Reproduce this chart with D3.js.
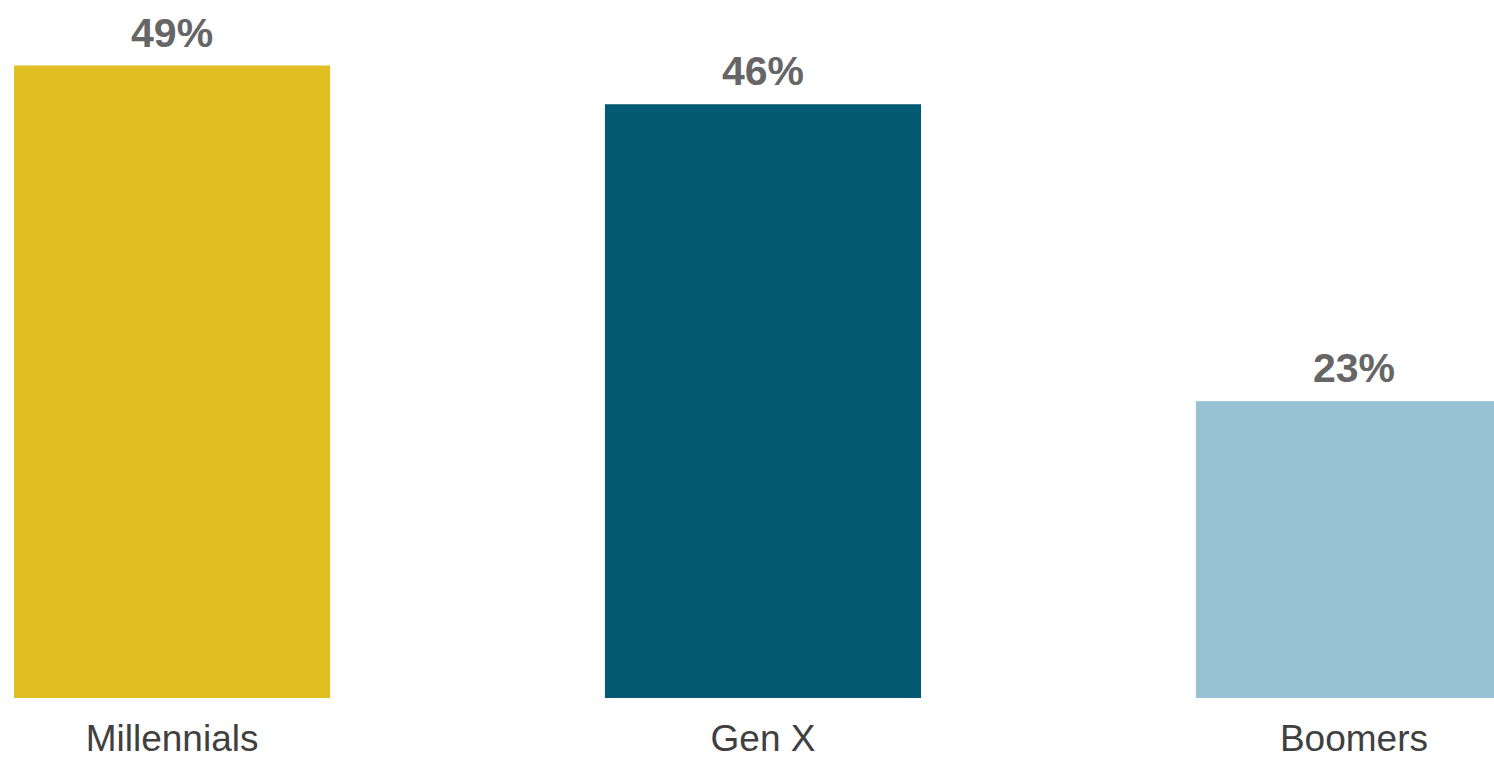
<!DOCTYPE html>
<html>
<head>
<meta charset="utf-8">
<script src="https://cdn.jsdelivr.net/npm/d3@7"></script>
<style>
  html, body { margin: 0; padding: 0; background: #ffffff; overflow: hidden; }
  svg { display: block; }
</style>
</head>
<body>
<script>
// Share of each generation (percent)
const categories = ["Millennials", "Gen X", "Boomers"];
const values = [49, 46, 23];
const valueLabels = ["49%", "46%", "23%"];
const barColors = ["#E0BF22", "#045A73", "#99C1D4"];

const width = 1494, height = 761;
const baseline = 698;

const svg = d3.select("body").append("svg")
  .attr("width", width)
  .attr("height", height)
  .style("font-family", "'Liberation Sans', Arial, sans-serif");

// Bars sit on a shared band scale; the last band runs past the right edge
const x = d3.scaleBand()
  .domain(categories)
  .range([14, 1512])
  .paddingInner(0.465)
  .paddingOuter(0);

const y = d3.scaleLinear()
  .domain([0, 49])
  .range([baseline, baseline - 632.5]);

const rows = categories.map((c, i) => ({ c, v: values[i], label: valueLabels[i], color: barColors[i] }));

svg.selectAll("rect.bar")
  .data(rows)
  .join("rect")
  .attr("class", "bar")
  .attr("x", d => x(d.c))
  .attr("y", d => y(d.v))
  .attr("width", x.bandwidth())
  .attr("height", d => y(0) - y(d.v))
  .attr("fill", d => d.color);

// Value labels above each bar
svg.selectAll("text.value")
  .data(rows)
  .join("text")
  .attr("class", "value")
  .attr("x", d => x(d.c) + x.bandwidth() / 2)
  .attr("y", d => y(d.v) - 19)
  .attr("text-anchor", "middle")
  .attr("font-size", 41)
  .attr("font-weight", "bold")
  .attr("fill", "#666666")
  .text(d => d.label);

// Category axis labels
const axis = d3.axisBottom(x).tickSize(0).tickPadding(0);
const gAxis = svg.append("g")
  .attr("transform", `translate(0,${baseline})`)
  .call(axis);
gAxis.select(".domain").remove();
gAxis.selectAll(".tick text")
  .attr("dy", null)
  .attr("y", 53)
  .attr("font-size", 37)
  .attr("font-family", "'Liberation Sans', Arial, sans-serif")
  .attr("fill", "#404040");
</script>
</body>
</html>
